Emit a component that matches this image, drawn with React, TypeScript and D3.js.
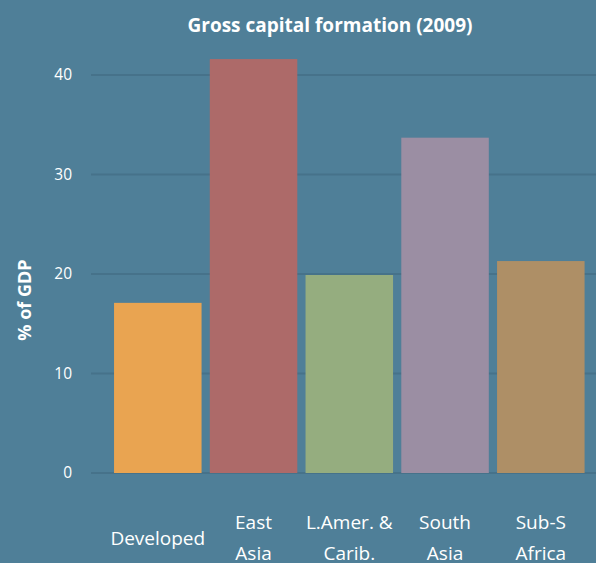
import React, { useEffect, useRef } from "react";
import * as d3 from "d3";

const regions = ["Developed", "East Asia", "L.Amer. & Carib.", "South Asia", "Sub-S Africa"];
const labelLines = [["Developed"], ["East", "Asia"], ["L.Amer. &", "Carib."], ["South", "Asia"], ["Sub-S", "Africa"]];
const gcf = [17.1, 41.6, 19.9, 33.7, 21.3];
const colors = ["#e9a451", "#ad6a69", "#95ad7f", "#9b8ea3", "#ae8f66"];
const yTicks = [0, 10, 20, 30, 40];

const App = () => {
  const chartRef = useRef<HTMLDivElement>(null);

  useEffect(() => {
    const width = 596;
    const height = 563;
    const font = "'Open Sans', sans-serif";

    const x = d3
      .scaleBand()
      .domain(regions)
      .range([105.8, 592.8])
      .padding(0.086);

    const y = d3.scaleLinear().domain([0, 40]).range([473, 75]);

    const svg = d3
      .select(chartRef.current)
      .append("svg")
      .attr("width", width)
      .attr("height", height)
      .style("display", "block");

    svg.append("rect").attr("width", width).attr("height", height).attr("fill", "#4f7f98");

    // grid lines
    svg
      .selectAll(".grid")
      .data(yTicks)
      .enter()
      .append("line")
      .attr("x1", 91)
      .attr("x2", width)
      .attr("y1", (d) => y(d))
      .attr("y2", (d) => y(d))
      .attr("stroke", "#46728a")
      .attr("stroke-width", 2);

    svg
      .selectAll(".ytick")
      .data(yTicks)
      .enter()
      .append("text")
      .attr("x", 72)
      .attr("y", (d) => y(d))
      .attr("dy", "0.35em")
      .attr("text-anchor", "end")
      .attr("fill", "#ffffff")
      .style("font-family", font)
      .style("font-size", "15.5px")
      .text((d) => d);

    svg
      .selectAll(".bar")
      .data(gcf)
      .enter()
      .append("rect")
      .attr("x", (d, i) => x(regions[i]))
      .attr("y", (d) => y(d))
      .attr("width", x.bandwidth())
      .attr("height", (d) => y(0) - y(d))
      .attr("fill", (d, i) => colors[i]);

    // category labels (the second line runs off the bottom, as in the original)
    const labels = svg
      .selectAll(".xlabel")
      .data(labelLines)
      .enter()
      .append("text")
      .attr("text-anchor", "middle")
      .attr("fill", "#ffffff")
      .style("font-family", font)
      .style("font-size", "19px");

    labels.each(function (lines, i) {
      const cx = x(regions[i]) + x.bandwidth() / 2;
      const base = lines.length === 1 ? 545 : 529;
      d3.select(this)
        .selectAll("tspan")
        .data(lines)
        .enter()
        .append("tspan")
        .attr("x", cx)
        .attr("y", (l, j) => base + j * 31)
        .text((l) => l);
    });

    svg
      .append("text")
      .attr("x", 330)
      .attr("y", 32)
      .attr("text-anchor", "middle")
      .attr("fill", "#ffffff")
      .style("font-family", font)
      .style("font-weight", "bold")
      .style("font-size", "19px")
      .text("Gross capital formation (2009)");

    svg
      .append("text")
      .attr("transform", "translate(31, 300) rotate(-90)")
      .attr("text-anchor", "middle")
      .attr("fill", "#ffffff")
      .style("font-family", font)
      .style("font-weight", "bold")
      .style("font-size", "18px")
      .text("% of GDP");

    return () => {
      svg.remove();
    };
  }, []);

  return (
    <div style={{ position: "fixed", left: 0, top: 0 }}>
      <div ref={chartRef}></div>
    </div>
  );
};

export default App;
